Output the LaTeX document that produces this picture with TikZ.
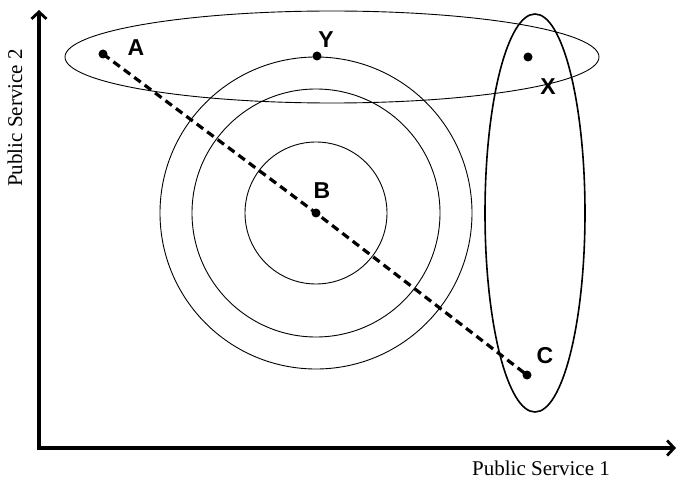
\documentclass[tikz,border=0pt]{standalone}
\usepackage{fontspec}
\setmainfont{Liberation Serif}
\newfontfamily\lblfont{Liberation Sans}
\usetikzlibrary{arrows.meta, positioning, calc}

\tikzset{
  axis/.style={line width=3.4pt, -{Straight Barb[length=7pt,width=15pt,line width=2.8pt]}},
  setline/.style={line width=0.9pt},
  pathline/.style={line width=3.2pt, dash pattern=on 8pt off 5pt},
  pt/.style={circle, fill, inner sep=0pt, minimum size=9pt},
  lbl/.style={font=\lblfont\bfseries\fontsize{23}{25}\selectfont},
  axlbl/.style={font=\fontsize{21}{23}\selectfont}
}

\begin{document}
\begin{tikzpicture}[x=1pt, y=-1pt]
    \useasboundingbox (0,0) rectangle (678,484);
    % Define the points for easier reference
    \coordinate (O) at (39,448);
    \coordinate (Ytop) at (39,10);
    \coordinate (Xend) at (676,448);
    \coordinate (Bc) at (316,213);

    % Axes
    \draw[axis] (O) -- (Ytop);
    \draw[axis] ([xshift=-1.7pt]O) -- (Xend);

    % Indifference circles around B
    \draw[setline] (Bc) circle [radius=71];
    \draw[setline] (Bc) circle [radius=124];
    \draw[setline] (Bc) circle [radius=156];

    % The two ellipses
    \draw[setline] (332,57) ellipse [x radius=267, y radius=46];
    \draw[line width=1.6pt] (535,213) ellipse [x radius=50, y radius=199];

    % Plot the points (as small black circles)
    \node[pt] (A) at (103,54) {};
    \node[pt] (B) at (Bc) {};
    \node[pt] (C) at (527,375) {};
    \node[pt] (Y) at (317,56) {};
    \node[pt] (X) at (528,57) {};

    % Dashed line through A, B and C
    \draw[pathline] (A.center) -- (B.center) -- (C.center);

    \node[lbl] (la) at (136,48) {A};
    \node[lbl] (ly) at (326,40) {Y};
    \node[lbl] (lb) at (322,191) {B};
    \node[lbl] (lx) at (548,87) {X};
    \node[lbl] (lc) at (545,356) {C};

    \node[axlbl, rotate=90] (ps2) at (15,118) {Public Service 2};
    \node[axlbl] (ps1) at (541,468) {Public Service 1};
\end{tikzpicture}
\end{document}
